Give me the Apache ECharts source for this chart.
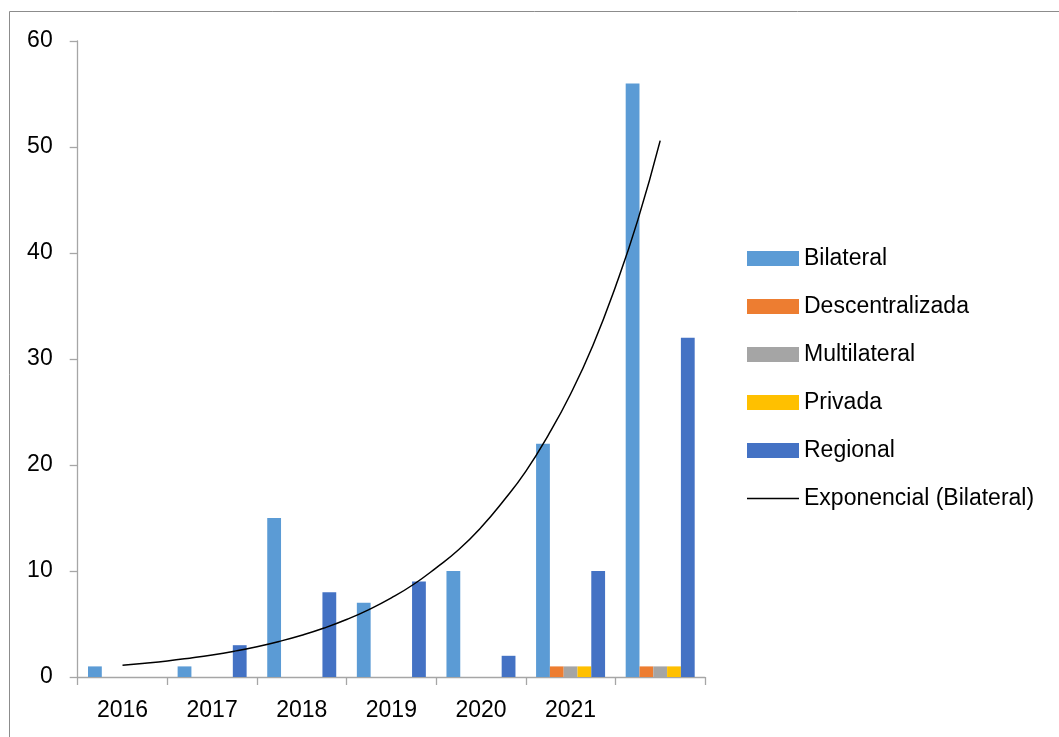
<!DOCTYPE html>
<html>
<head>
<meta charset="utf-8">
<script src="https://cdn.jsdelivr.net/npm/echarts@6/dist/echarts.min.js"></script>
<style>
html,body{margin:0;padding:0;background:#fff;}
#chart{width:1059px;height:737px;}
</style>
</head>
<body>
<div id="chart"></div>
<script>
const categories = ['2016', '2017', '2018', '2019', '2020', '2021', ''];
const bilateral = [1, 1, 15, 7, 10, 22, 56];
const descentralizada = [0, 0, 0, 0, 0, 1, 1];
const multilateral = [0, 0, 0, 0, 0, 1, 1];
const privada = [0, 0, 0, 0, 0, 1, 1];
const regional = [0, 3, 8, 9, 2, 10, 32];
// Exponential trendline of Bilateral, points every quarter category.
// Position is in category units (1 = centre of 2016, 7 = centre of last group).
const trendPos = [1, 1.25, 1.5, 1.75, 2, 2.25, 2.5, 2.75, 3, 3.25, 3.5, 3.75, 4,
                  4.25, 4.5, 4.75, 5, 5.25, 5.5, 5.75, 6, 6.25, 6.5, 6.75, 7];
const trendVal = [1.10, 1.29, 1.51, 1.78, 2.08, 2.44, 2.86, 3.36, 3.94, 4.62, 5.42, 6.36, 7.46,
                  8.75, 10.3, 12.0, 14.1, 16.6, 19.4, 22.8, 26.7, 31.3, 36.8, 43.1, 50.6];
const yTicks = { min: 0, max: 60, interval: 10 };

const FONT = 'Liberation Sans';
const chart = echarts.init(document.getElementById('chart'), null, { renderer: 'canvas' });

function barSeries(name, data, color) {
  return {
    name: name, type: 'bar', data: data,
    barGap: '0%', barCategoryGap: '23%',
    itemStyle: { color: color },
    emphasis: { disabled: true }
  };
}

const axisGray = '#a6a6a6';
const trendData = trendPos.map((p, i) => [p, trendVal[i]]);

chart.setOption({
  animation: false,
  backgroundColor: '#fff',
  textStyle: { fontFamily: FONT },
  graphic: [{
    type: 'rect', silent: true, z: -10,
    shape: { x: 9.5, y: 11.5, width: 1100, height: 800 },
    style: { fill: 'none', stroke: '#8c8c8c', lineWidth: 1 }
  }],
  grid: { left: 77.7, right: 354, top: 41, bottom: 60, containLabel: false },
  legend: {
    orient: 'vertical', left: 747, top: 247, padding: 0,
    icon: 'rect',
    itemWidth: 52, itemHeight: 15, itemGap: 25,
    textStyle: { fontFamily: FONT, fontSize: 23, color: '#000' },
    data: [
      'Bilateral', 'Descentralizada', 'Multilateral', 'Privada', 'Regional',
      {
        name: 'Exponencial (Bilateral)',
        icon: 'path://M0,0 M0,6.8 H52 V8.2 H0 Z M52,15',
        itemStyle: { color: '#000', borderWidth: 0 }
      }
    ]
  },
  xAxis: [{
    type: 'category', data: categories,
    axisLine: { lineStyle: { color: axisGray, width: 1.3 } },
    axisTick: { show: true, length: 8, lineStyle: { color: axisGray, width: 1.3 } },
    axisLabel: { color: '#000', fontSize: 23, fontFamily: FONT, margin: 22, interval: 0 },
    splitLine: { show: false }
  }, {
    type: 'value', min: 0.5, max: 7.5, show: false,
    splitLine: { show: false }
  }],
  yAxis: {
    type: 'value', min: yTicks.min, max: yTicks.max, interval: yTicks.interval,
    axisLine: { show: true, lineStyle: { color: axisGray, width: 1.3 } },
    axisTick: { show: true, length: 8, lineStyle: { color: axisGray, width: 1.3 } },
    axisLabel: { color: '#000', fontSize: 23, fontFamily: FONT, margin: 25 },
    splitLine: { show: false }
  },
  series: [
    barSeries('Bilateral', bilateral, '#5b9bd5'),
    barSeries('Descentralizada', descentralizada, '#ed7d31'),
    barSeries('Multilateral', multilateral, '#a5a5a5'),
    barSeries('Privada', privada, '#ffc000'),
    barSeries('Regional', regional, '#4472c4'),
    {
      name: 'Exponencial (Bilateral)', type: 'line', data: trendData,
      xAxisIndex: 1,
      smooth: true, symbol: 'none', z: 5,
      lineStyle: { color: '#000', width: 1.5 },
      itemStyle: { color: '#000' },
      emphasis: { disabled: true }
    }
  ]
});
</script>
</body>
</html>
